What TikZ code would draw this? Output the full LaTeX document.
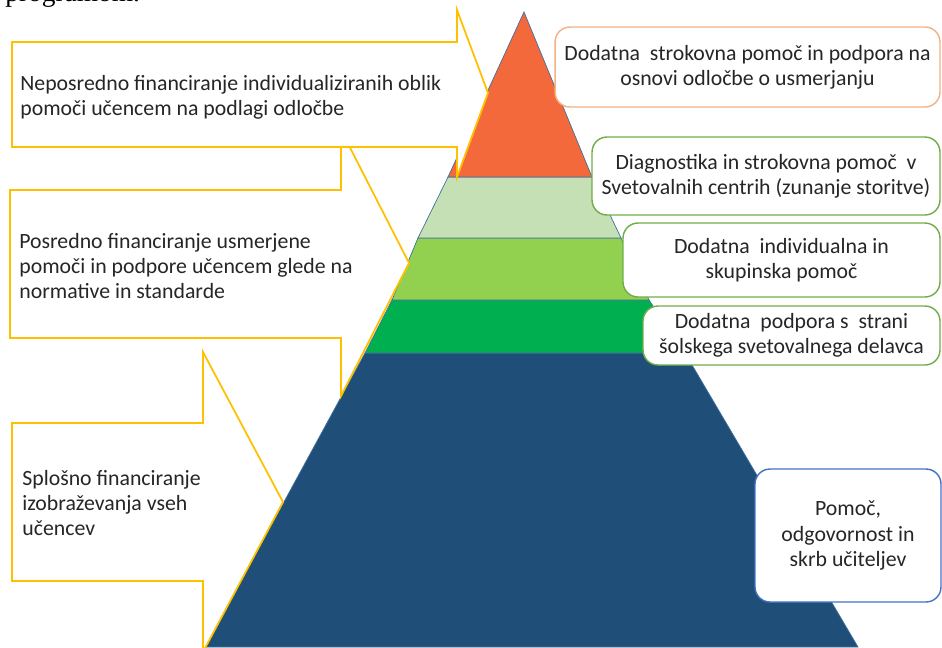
\documentclass[tikz,border=0pt]{standalone}
\usepackage{fontspec}
\setmainfont{Carlito}
\newfontfamily\pageserif{Liberation Serif}
\definecolor{pyrorange}{HTML}{F4693B}
\definecolor{pyrlight}{HTML}{C5E0B4}
\definecolor{pyrmid}{HTML}{92D050}
\definecolor{pyrdark}{HTML}{00B050}
\definecolor{pyrnavy}{HTML}{1F4E79}
\definecolor{layerline}{HTML}{41719C}
\definecolor{arrowyellow}{HTML}{FFC000}
\definecolor{orangeline}{HTML}{F4B183}
\definecolor{greenline}{HTML}{70AD47}
\definecolor{blueline}{HTML}{4472C4}
\definecolor{textgrey}{HTML}{262626}
\begin{document}
\begin{tikzpicture}[x=0.02cm,y=-0.02cm,
    layer/.style={draw=layerline,line width=0.4pt},
    flowarrow/.style={draw=arrowyellow,fill=white,line width=1pt},
    arrowtext/.style={anchor=west,align=left,inner sep=0pt,text=textgrey,font=\fontsize{12.4}{14.3}\selectfont},
    levelbox/.style={draw,fill=white,rounded corners=0.3cm,line width=0.8pt,align=center,inner sep=2pt,text=textgrey,font=\fontsize{12.4}{14.3}\selectfont}]
    \useasboundingbox (0,0) rectangle (942,647);
    \node[anchor=base west,inner sep=0pt,font=\pageserif\fontsize{15.6}{18}\selectfont] (pagetext) at (5,1) {programom.};
    \draw[layer,fill=pyrnavy] (365,353) -- (685,353) -- (858,647) -- (205,647) -- cycle;
    \draw[layer,fill=pyrdark] (392,300) -- (649,300) -- (685,353) -- (365,353) -- cycle;
    \draw[layer,fill=pyrmid] (418,238) -- (621,238) -- (649,300) -- (392,300) -- cycle;
    \draw[layer,fill=pyrlight] (448,177) -- (592,177) -- (621,238) -- (418,238) -- cycle;
    \draw[layer,fill=pyrorange] (524,12) -- (592,177) -- (448,177) -- cycle;
    \draw[flowarrow] (12,423) -- (203,423) -- (203,352) -- (283,502) -- (203,652) -- (203,581) -- (12,581) -- cycle;
    \draw[flowarrow] (10,190) -- (341,190) -- (341,130) -- (409,263) -- (341,396) -- (341,338) -- (10,338) -- cycle;
    \draw[flowarrow] (12,42) -- (457,42) -- (457,10) -- (488,93) -- (457,177) -- (457,147) -- (12,147) -- cycle;
    \node[arrowtext] (direct) at (20,97) {Neposredno financiranje individualiziranih oblik\\pomoči učencem na podlagi odločbe};
    \node[arrowtext] (indirect) at (19,266) {Posredno financiranje usmerjene\\pomoči in podpore učencem glede na\\normative in standarde};
    \node[arrowtext] (general) at (22,503) {Splošno financiranje\\izobraževanja vseh\\učencev};
    \node[levelbox,draw=orangeline,minimum width=7.7cm,minimum height=1.6cm] (expert) at (747.5,67) {Dodatna\ \ strokovna pomoč in podpora na\\osnovi odločbe o usmerjanju};
    \node[levelbox,draw=greenline,minimum width=6.96cm,minimum height=1.56cm] (centres) at (766,176) {Diagnostika in strokovna pomoč\ \ v\\Svetovalnih centrih (zunanje storitve)};
    \node[levelbox,draw=greenline,minimum width=6.34cm,minimum height=1.48cm] (groups) at (781.5,260) {Dodatna\ \ individualna in\\skupinska pomoč};
    \node[levelbox,draw=greenline,minimum width=5.94cm,minimum height=1.18cm] (counsel) at (791.5,335.5) {Dodatna\ \ podpora s\ \ strani\\šolskega svetovalnega delavca};
    \node[levelbox,draw=blueline,minimum width=3.72cm,minimum height=2.66cm] (teachers) at (848,535.5) {Pomoč,\\odgovornost in\\skrb učiteljev};
\end{tikzpicture}
\end{document}
